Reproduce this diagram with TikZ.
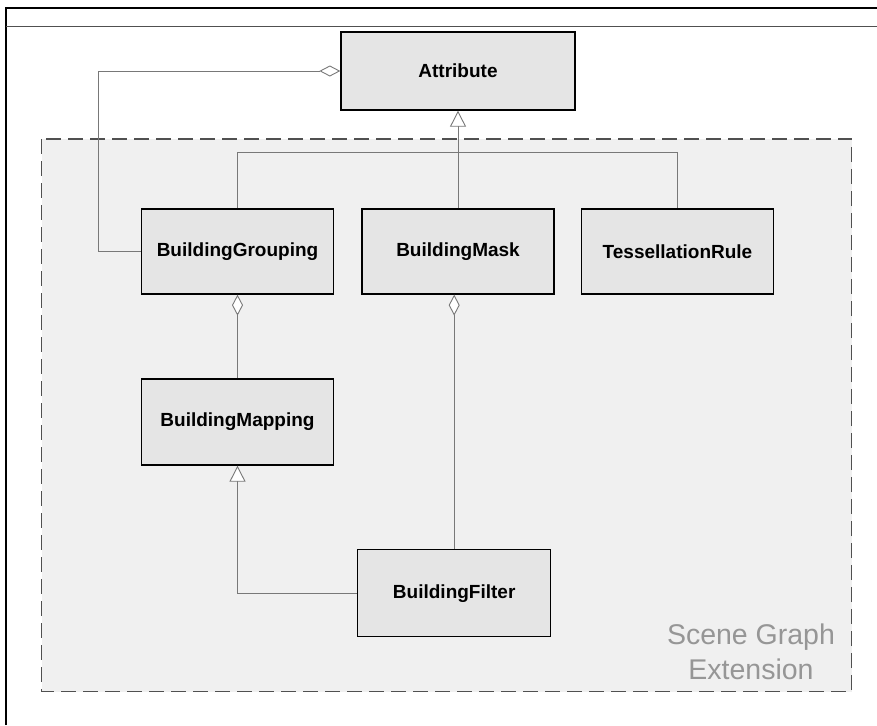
\documentclass[tikz,border=0pt]{standalone}
\usepackage{fontspec}
\setmainfont{Liberation Sans}
\usetikzlibrary{arrows.meta}
\definecolor{boxfill}{RGB}{229,229,229}
\definecolor{regionfill}{RGB}{240,240,240}
\definecolor{conngray}{RGB}{120,120,120}
\definecolor{dashgray}{RGB}{80,80,80}
\definecolor{labelgray}{RGB}{150,150,150}
\tikzset{
  classbox/.style={draw=black, line width=1.3pt, fill=boxfill, rectangle,
    minimum width=192pt, minimum height=85pt, inner sep=0pt,
    font=\fontsize{19pt}{23pt}\selectfont\bfseries},
  conn/.style={draw=conngray, line width=0.9pt},
  inh/.style={conn, -{Triangle[open, fill=white, length=16pt, width=16pt]}},
  agg/.style={conn, -{Diamond[open, fill=white, length=21pt, width=11pt]}},
  region/.style={draw=dashgray, line width=1.1pt, dash pattern=on 15pt off 7pt, fill=regionfill}
}
\begin{document}
\begin{tikzpicture}[x=1pt, y=-1pt]
\useasboundingbox (0,0) rectangle (877,725);
% frame
\draw[line width=2.4pt, black] (6,725) -- (6,8) -- (877,8);
\draw[line width=1pt, dashgray] (6,27) -- (877,27);
% region
\draw[region] (41.5,139) rectangle (851.5,691.5);
\node[text=labelgray, align=center, font=\fontsize{28.5pt}{35pt}\selectfont] (scenelabel) at (751,652) {Scene Graph\\Extension};
% classes
\node[classbox, minimum width=234pt, minimum height=78pt] (Attribute) at (458,71) {Attribute};
\node[classbox] (BuildingGrouping) at (237.5,251.5) {BuildingGrouping};
\node[classbox] (BuildingMask) at (458,251.5) {BuildingMask};
\node[classbox] (TessellationRule) at (677.5,251.5) {TessellationRule};
\node[classbox, minimum height=86pt] (BuildingMapping) at (237.5,422) {BuildingMapping};
\node[classbox, minimum width=193pt, minimum height=87pt] (BuildingFilter) at (454.2,593.3) {BuildingFilter};
% connectors
\draw[inh] (BuildingMask.north) -- (BuildingMask.north |- Attribute.south);
\draw[conn] (BuildingGrouping.north) -- ++(0,-56) -| (TessellationRule.north);
\draw[agg] (BuildingGrouping.west) -- ++(-42.4,0) |- (Attribute.west);
\draw[agg] (BuildingMapping.north) -- (BuildingGrouping.south);
\draw[agg] (BuildingFilter.north) -- (BuildingFilter.north |- BuildingMask.south);
\draw[inh] (BuildingFilter.west) -| (BuildingMapping.south);
\end{tikzpicture}
\end{document}
